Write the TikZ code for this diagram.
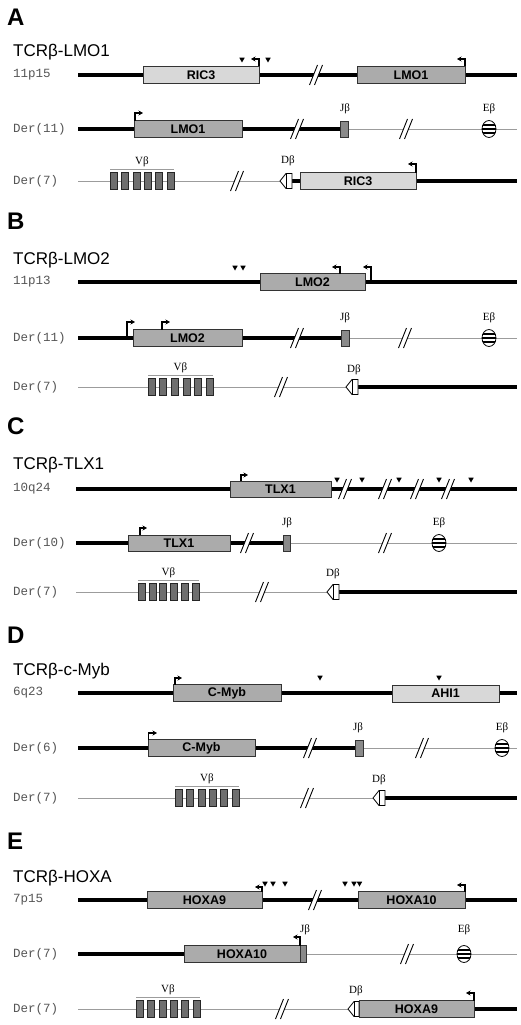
\documentclass[tikz,border=0pt]{standalone}
\usepackage{fontspec}
\setmainfont{Liberation Sans}
\setmonofont{Liberation Mono}
\newfontfamily\serifb{Liberation Serif}
\usetikzlibrary{arrows.meta,shapes.geometric}
\pgfdeclarelayer{bg}
\pgfdeclarelayer{paper}
\pgfsetlayers{paper,bg,main}
\definecolor{gmed}{HTML}{ABABAB}
\definecolor{glight}{HTML}{D8D8D8}
\definecolor{gdark}{HTML}{6E6E6E}
\definecolor{gj}{HTML}{8A8A8A}
\definecolor{gthin}{HTML}{9C9C9C}
\definecolor{glabel}{HTML}{555555}
\tikzset{
 thickln/.style={line width=4.2pt},
 thinln/.style={line width=0.9pt, draw=gthin},
 genebox/.style={draw=black!80, line width=0.8pt, fill=gmed, inner sep=0pt, font=\fontsize{12.5}{14}\selectfont\bfseries},
 lightbox/.style={genebox, fill=glight},
 vbox/.style={draw=black!85, line width=0.6pt, fill=gdark, inner sep=0pt, minimum width=7pt},
 jbox/.style={draw=black!80, line width=0.6pt, fill=gj, inner sep=0pt},
 prom/.style={line width=1.1pt, -{Stealth[length=4.5pt,width=5pt]}},
 chrlab/.style={anchor=west, font=\fontsize{12.5}{14}\ttfamily, text=glabel, inner sep=0pt},
 titlelab/.style={anchor=base west, font=\fontsize{17}{20}\selectfont, inner sep=0pt},
 panellab/.style={anchor=west, font=\fontsize{24}{28}\selectfont\bfseries, inner sep=0pt},
 seglab/.style={font=\fontsize{11}{13}\serifb, inner sep=0pt},
 ebetabox/.style={ellipse, draw, line width=0.8pt, fill=white, minimum width=14pt, minimum height=17pt, inner sep=0pt,
   path picture={\foreach \d in {-4,0,4} \draw[line width=1.2pt] ([yshift=\d pt]path picture bounding box.west) -- ([yshift=\d pt]path picture bounding box.east);}},
}
% style, name, x1, x2, y1, y2, text
\newcommand\genebx[7]{\node[#1, minimum width={(#4-#3)*1pt}, minimum height={(#6-#5)*1pt}] (#2) at ({(#3+#4)/2},{(#5+#6)/2}) {#7};}
% break mark at x,y
\newcommand\brkmk[2]{\fill[white] ({#1-6.5},{#2+10}) -- ({#1+1.5},{#2-10}) -- ({#1+6.5},{#2-10}) -- ({#1-1.5},{#2+10}) -- cycle;
 \draw[line width=0.9pt] ({#1-6.5},{#2+10}) -- ({#1+1.5},{#2-10}) ({#1-1.5},{#2+10}) -- ({#1+6.5},{#2-10});}
% small triangle
\newcommand\cutmark[2]{\fill ({#1-2.7},{#2-2.3}) -- ({#1+2.7},{#2-2.3}) -- (#1,{#2+2.5}) -- cycle;}
% D beta: name x1 x2 y
\newcommand\dbshape[4]{\draw[fill=white, line width=0.8pt] (#2,#4) -- ({#2+6},{#4-7.5}) -- (#3,{#4-7.5}) -- (#3,{#4+7.5}) -- ({#2+6},{#4+7.5}) -- cycle;
 \draw[line width=0.8pt] ({#2+6},{#4-7.5}) -- ({#2+6},{#4+7.5});
 \coordinate (#1w) at (#2,#4); \coordinate (#1e) at (#3,#4);}
% V beta group: name x1 x2 ytop ybot
\newcommand\vbgroup[5]{\draw[thinln] (#2,{#4-3}) -- (#3,{#4-3});
 \foreach \i in {0,...,5} \node[vbox, minimum height={(#5-#4)*1pt}] (#1\i) at ({#2+3.5+\i*(#3-#2-7)/5},{(#4+#5)/2}) {};
 \node[seglab] (#1l) at ({(#2+#3)/2},{#4-11}) {Vβ};}
\begin{document}
\begin{tikzpicture}[x=1pt,y=-1pt]
\useasboundingbox (0,0) rectangle (520,1025);
\begin{pgfonlayer}{paper}\fill[white] (0,0) rectangle (520,1025);\end{pgfonlayer}

%================ A
\node[panellab] (pA) at (7,17) {A};
\node[titlelab] (tA) at (13,57) {TCRβ-LMO1};
% row 1
\node[chrlab] (lA1) at (13,75) {11p15};
\coordinate (A1s) at (78,75); \coordinate (A1e) at (517,75);
\genebx{lightbox}{ric3A}{143}{259}{66.5}{83.5}{RIC3}
\genebx{genebox}{lmo1A}{357}{465}{66.5}{83.5}{LMO1}
\begin{pgfonlayer}{bg}\draw[thickln] (A1s) -- (A1e);\end{pgfonlayer}
\brkmk{316}{75}
\draw[prom] (259,66.5) |- (251,59);
\draw[prom] (465,66.5) |- (457,59);
\cutmark{242}{60}\cutmark{268}{60}
% row 2
\node[chrlab] (lA2) at (13,129) {Der(11)};
\coordinate (A2s) at (78,129); \coordinate (A2e) at (517,129);
\genebx{genebox}{lmo1Ad}{134}{242}{120.5}{137.5}{LMO1}
\genebx{jbox}{jA}{340}{348}{121}{137}{}
\node[seglab] (jAl) at (345,109) {Jβ};
\node[ebetabox] (eA) at (489,129) {};
\node[seglab] (eAl) at (489,109) {Eβ};
\begin{pgfonlayer}{bg}\draw[thickln] (A2s) -- (jA.center);\draw[thinln] (jA.center) -- (A2e);\end{pgfonlayer}
\brkmk{297}{129}\brkmk{406}{129}
\draw[prom] (135,120.5) |- (143,113);
% row 3
\node[chrlab] (lA3) at (13,181) {Der(7)};
\coordinate (A3s) at (78,181); \coordinate (A3e) at (517,181);
\vbgroup{vA}{110}{174}{172.5}{189.5}
\dbshape{dA}{280}{292}{181}
\node[seglab] (dAl) at (288,161) {Dβ};
\genebx{lightbox}{ric3Ad}{300}{416}{172.5}{189.5}{RIC3}
\begin{pgfonlayer}{bg}\draw[thinln] (A3s) -- (dAw);\draw[thickln] (dAe) -- (A3e);\end{pgfonlayer}
\brkmk{237}{181}
\draw[prom] (416,172.5) |- (408,164);

%================ B
\node[panellab] (pB) at (7,221) {B};
\node[titlelab] (tB) at (13,264) {TCRβ-LMO2};
% row 1
\node[chrlab] (lB1) at (13,282) {11p13};
\coordinate (B1s) at (78,282); \coordinate (B1e) at (517,282);
\genebx{genebox}{lmo2B}{260}{365}{273.5}{290.5}{LMO2}
\begin{pgfonlayer}{bg}\draw[thickln] (B1s) -- (B1e);\end{pgfonlayer}
\draw[prom] (340,273.5) |- (332,267);
\draw[prom] (371,280) |- (363,267);
\cutmark{235}{268}\cutmark{243}{268}
% row 2
\node[chrlab] (lB2) at (13,338) {Der(11)};
\coordinate (B2s) at (78,338); \coordinate (B2e) at (517,338);
\genebx{genebox}{lmo2Bd}{133}{242}{329.5}{346.5}{LMO2}
\genebx{jbox}{jB}{341}{349}{330}{346}{}
\node[seglab] (jBl) at (345,318) {Jβ};
\node[ebetabox] (eB) at (489,338) {};
\node[seglab] (eBl) at (489,318) {Eβ};
\begin{pgfonlayer}{bg}\draw[thickln] (B2s) -- (jB.center);\draw[thinln] (jB.center) -- (B2e);\end{pgfonlayer}
\brkmk{297}{338}\brkmk{405}{338}
\draw[prom] (127,336) |- (135,322);
\draw[prom] (162,329.5) |- (170,322);
% row 3
\node[chrlab] (lB3) at (13,387) {Der(7)};
\coordinate (B3s) at (78,387); \coordinate (B3e) at (517,387);
\vbgroup{vB}{148}{213}{378.5}{395.5}
\dbshape{dB}{346}{358}{387}
\node[seglab] (dBl) at (354,370) {Dβ};
\begin{pgfonlayer}{bg}\draw[thinln] (B3s) -- (dBw);\draw[thickln] (dBe) -- (B3e);\end{pgfonlayer}
\brkmk{281}{387}

%================ C
\node[panellab] (pC) at (7,426) {C};
\node[titlelab] (tC) at (13,469) {TCRβ-TLX1};
% row 1
\node[chrlab] (lC1) at (13,489) {10q24};
\coordinate (C1s) at (76,489); \coordinate (C1e) at (517,489);
\genebx{genebox}{tlxC}{230}{331}{481}{497}{TLX1}
\begin{pgfonlayer}{bg}\draw[thickln] (C1s) -- (C1e);\end{pgfonlayer}
\brkmk{345}{489}\brkmk{385}{489}\brkmk{417}{489}\brkmk{448}{489}
\draw[prom] (241,481) |- (248,475);
\cutmark{337}{480}\cutmark{362}{480}\cutmark{399}{480}\cutmark{439}{480}\cutmark{471}{480}
% row 2
\node[chrlab] (lC2) at (13,543) {Der(10)};
\coordinate (C2s) at (76,543); \coordinate (C2e) at (517,543);
\genebx{genebox}{tlxCd}{128}{230}{535}{551}{TLX1}
\genebx{jbox}{jC}{283}{290}{535}{551}{}
\node[seglab] (jCl) at (287,523) {Jβ};
\node[ebetabox] (eC) at (439,543) {};
\node[seglab] (eCl) at (439,523) {Eβ};
\begin{pgfonlayer}{bg}\draw[thickln] (C2s) -- (jC.center);\draw[thinln] (jC.center) -- (C2e);\end{pgfonlayer}
\brkmk{247}{543}\brkmk{385}{543}
\draw[prom] (140,535) |- (147,528);
% row 3
\node[chrlab] (lC3) at (13,592) {Der(7)};
\coordinate (C3s) at (76,592); \coordinate (C3e) at (517,592);
\vbgroup{vC}{138}{199}{583.5}{600.5}
\dbshape{dC}{327}{339}{592}
\node[seglab] (dCl) at (333,574) {Dβ};
\begin{pgfonlayer}{bg}\draw[thinln] (C3s) -- (dCw);\draw[thickln] (dCe) -- (C3e);\end{pgfonlayer}
\brkmk{262}{592}

%================ D
\node[panellab] (pD) at (7,635) {D};
\node[titlelab] (tD) at (13,675) {TCRβ-c-Myb};
% row 1
\node[chrlab] (lD1) at (13,693) {6q23};
\coordinate (D1s) at (78,693); \coordinate (D1e) at (517,693);
\genebx{genebox}{mybD}{173}{281}{684.5}{701.5}{C-Myb}
\genebx{lightbox}{ahiD}{392}{499}{685}{702}{AHI1}
\begin{pgfonlayer}{bg}\draw[thickln] (D1s) -- (D1e);\end{pgfonlayer}
\draw[prom] (175,684.5) |- (182,678);
\cutmark{320}{678}\cutmark{439}{678}
% row 2
\node[chrlab] (lD2) at (13,748) {Der(6)};
\coordinate (D2s) at (78,748); \coordinate (D2e) at (517,748);
\genebx{genebox}{mybDd}{148}{255}{739.5}{756.5}{C-Myb}
\genebx{jbox}{jD}{355}{363}{740}{756}{}
\node[seglab] (jDl) at (358,728) {Jβ};
\node[ebetabox] (eD) at (502,748) {};
\node[seglab] (eDl) at (502,728) {Eβ};
\begin{pgfonlayer}{bg}\draw[thickln] (D2s) -- (jD.center);\draw[thinln] (jD.center) -- (D2e);\end{pgfonlayer}
\brkmk{310}{748}\brkmk{422}{748}
\draw[prom] (148.5,739.5) |- (157,733);
% row 3
\node[chrlab] (lD3) at (13,798) {Der(7)};
\coordinate (D3s) at (78,798); \coordinate (D3e) at (517,798);
\vbgroup{vD}{175}{239}{789.5}{806.5}
\dbshape{dD}{373}{385}{798}
\node[seglab] (dDl) at (379,780) {Dβ};
\begin{pgfonlayer}{bg}\draw[thinln] (D3s) -- (dDw);\draw[thickln] (dDe) -- (D3e);\end{pgfonlayer}
\brkmk{307}{798}

%================ E
\node[panellab] (pE) at (7,841) {E};
\node[titlelab] (tE) at (13,882) {TCRβ-HOXA};
% row 1
\node[chrlab] (lE1) at (13,900) {7p15};
\coordinate (E1s) at (78,900); \coordinate (E1e) at (517,900);
\genebx{genebox}{hx9E}{147}{262}{891.5}{908.5}{HOXA9}
\genebx{genebox}{hx10E}{358}{465}{891.5}{908.5}{HOXA10}
\begin{pgfonlayer}{bg}\draw[thickln] (E1s) -- (E1e);\end{pgfonlayer}
\brkmk{315}{900}
\draw[prom] (262,891.5) |- (255,887);
\draw[prom] (465,891.5) |- (457,885);
\cutmark{265}{884}\cutmark{273}{884}\cutmark{285}{884}
\cutmark{345}{884}\cutmark{354}{884}\cutmark{359.5}{884}
% row 2
\node[chrlab] (lE2) at (13,954) {Der(7)};
\coordinate (E2s) at (78,954); \coordinate (E2e) at (517,954);
\genebx{genebox}{hx10Ed}{184}{300}{945.5}{962.5}{HOXA10}
\genebx{jbox}{jE}{300}{306}{945.5}{962.5}{}
\node[seglab] (jEl) at (305,930) {Jβ};
\node[ebetabox] (eE) at (464,954) {};
\node[seglab] (eEl) at (464,930) {Eβ};
\begin{pgfonlayer}{bg}\draw[thickln] (E2s) -- (hx10Ed.center);\draw[thinln] (jE.center) -- (E2e);\end{pgfonlayer}
\brkmk{407}{954}
\draw[prom] (300,945.5) |- (293,937);
% row 3
\node[chrlab] (lE3) at (13,1009) {Der(7)};
\coordinate (E3s) at (78,1009); \coordinate (E3e) at (517,1009);
\vbgroup{vE}{136}{200}{1000.5}{1017.5}
\dbshape{dE}{348}{359}{1009}
\node[seglab] (dEl) at (356,991) {Dβ};
\genebx{genebox}{hx9Ed}{359}{474}{1000.5}{1017.5}{HOXA9}
\begin{pgfonlayer}{bg}\draw[thinln] (E3s) -- (dEw);\draw[thickln] (hx9Ed.center) -- (E3e);\end{pgfonlayer}
\brkmk{282}{1009}
\draw[prom] (474,1000.5) |- (466,993);
\end{tikzpicture}
\end{document}
